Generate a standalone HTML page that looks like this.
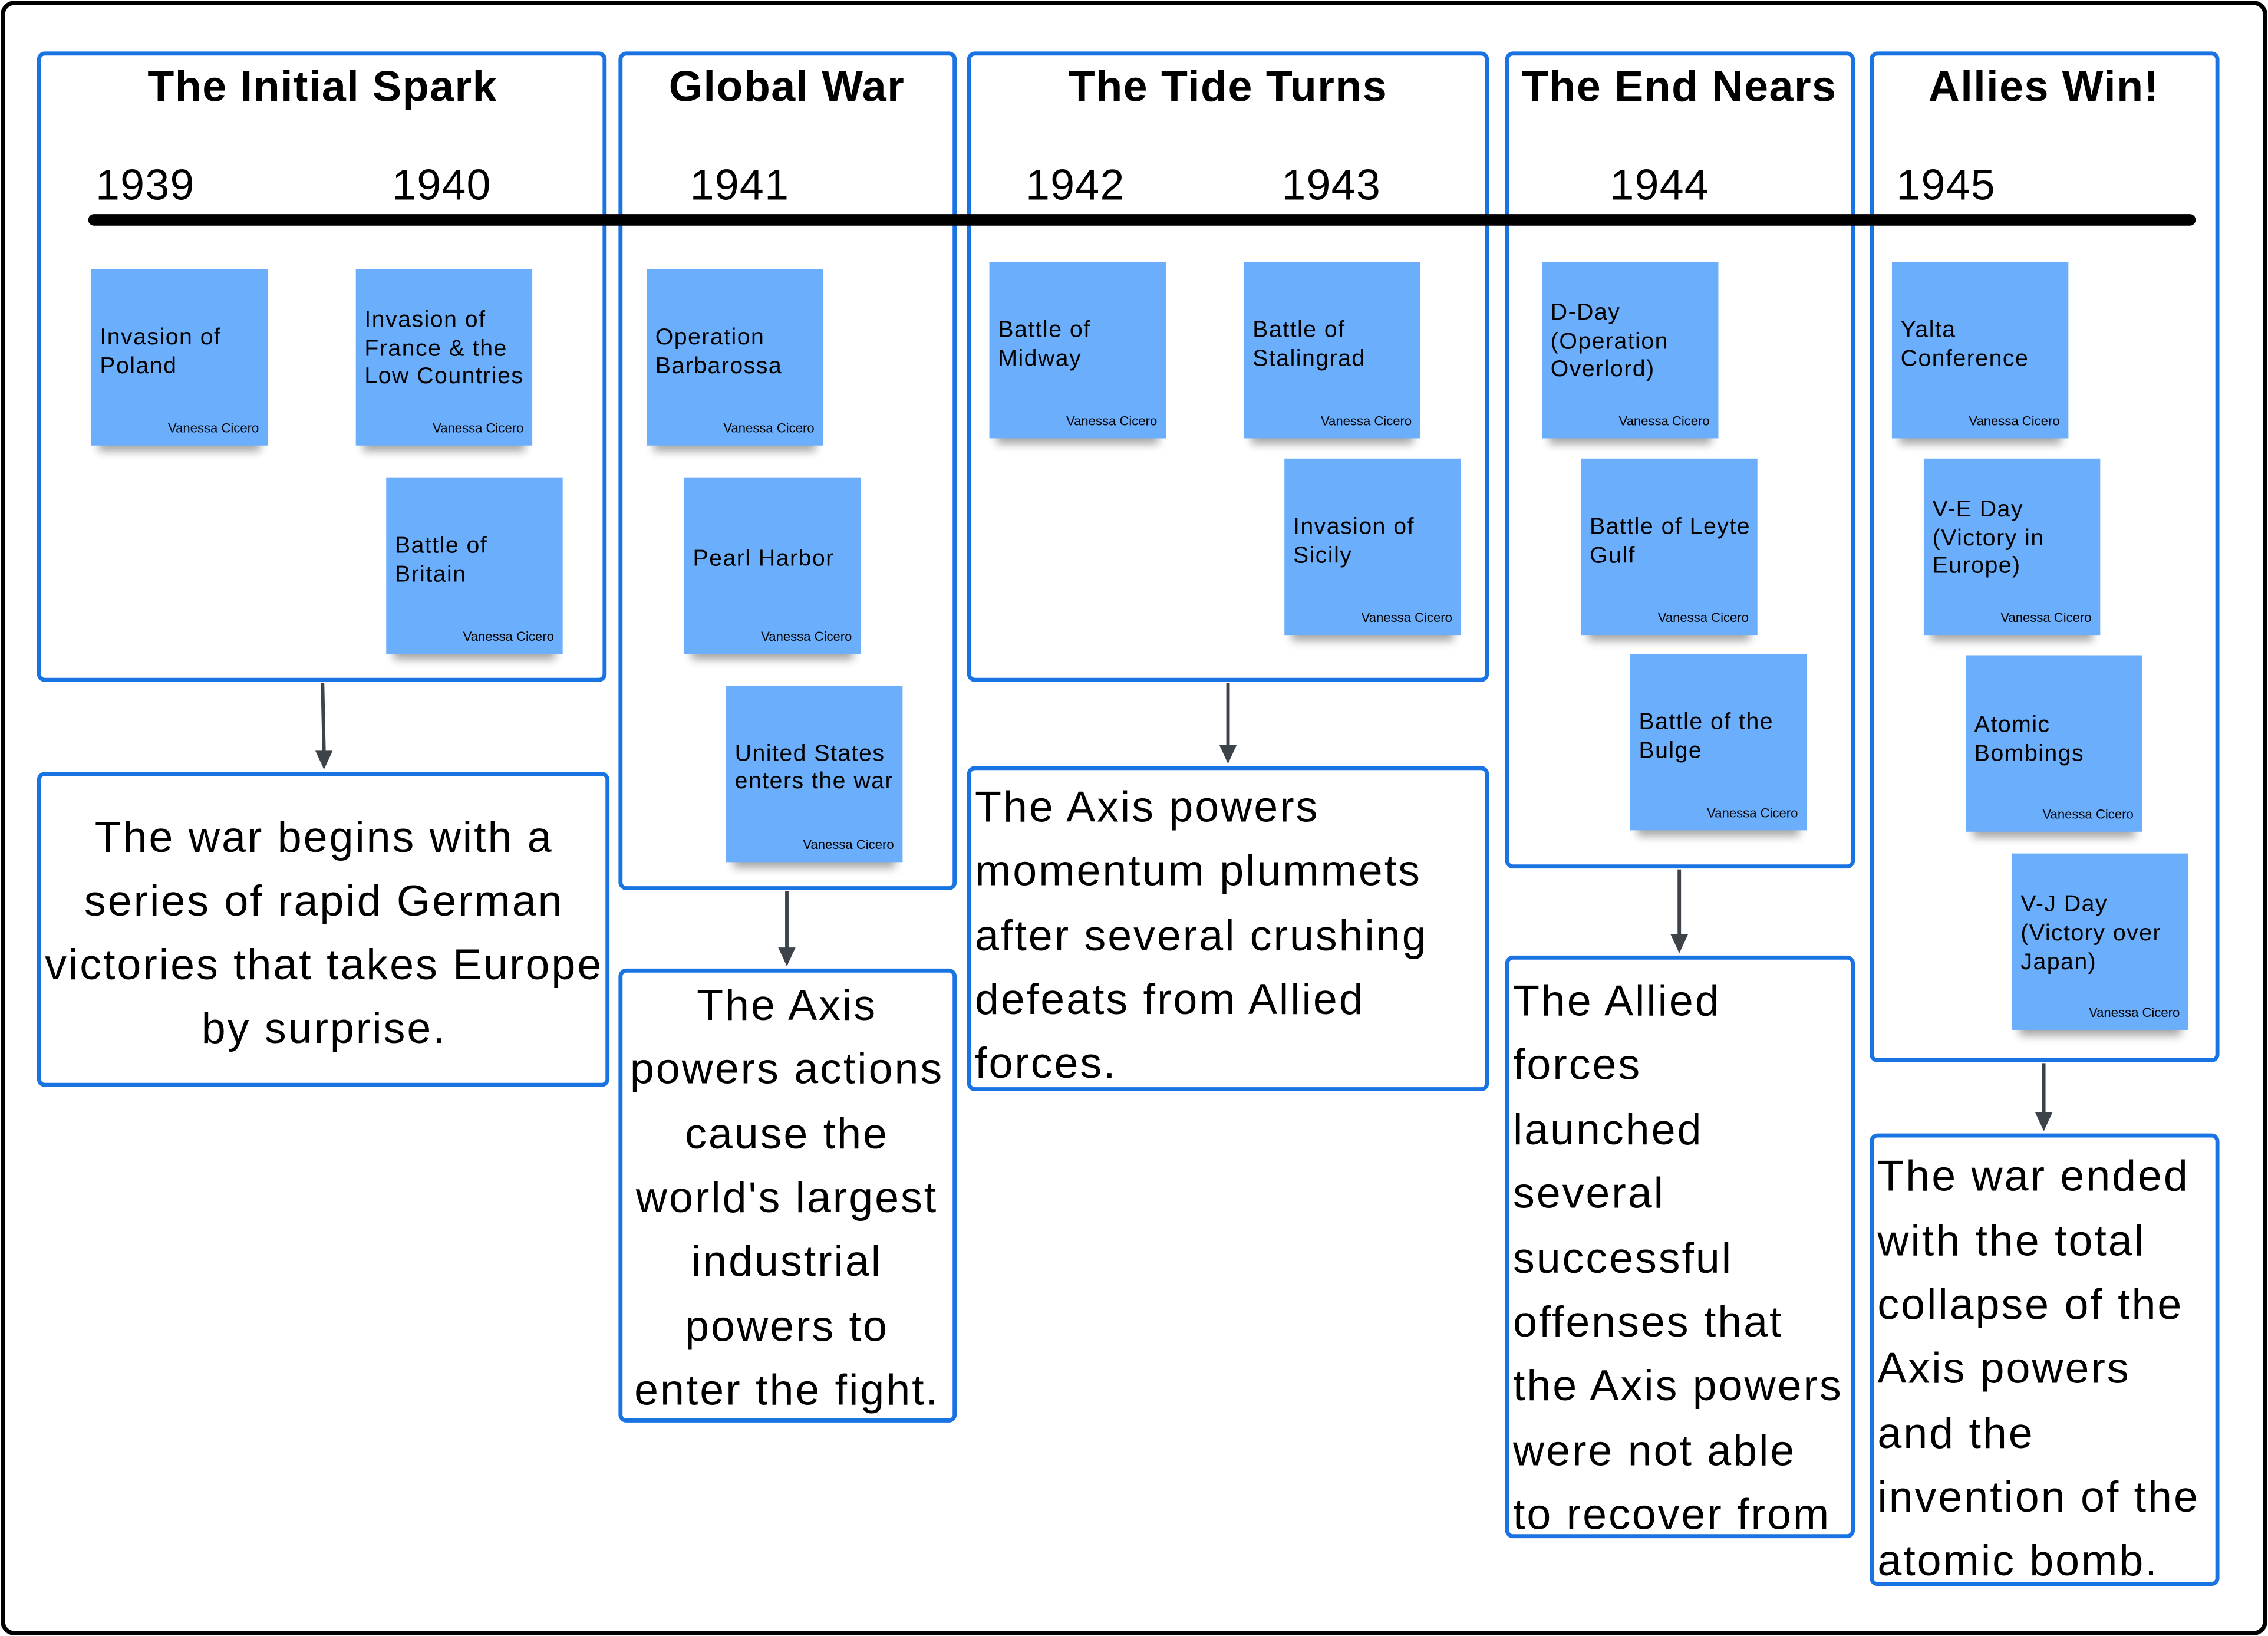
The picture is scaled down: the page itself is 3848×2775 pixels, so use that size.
<!DOCTYPE html>
<html><head><meta charset="utf-8"><style>
html,body{margin:0;padding:0;background:#fff;}
svg{display:block;}
text{font-family:"Liberation Sans",sans-serif;fill:#000;}
.t{font-size:30px;font-weight:bold;text-anchor:middle;letter-spacing:0.6px;}
.y{font-size:30px;letter-spacing:0.5px;}
.s{font-size:16px;letter-spacing:0.6px;}
.sig{font-size:9px;text-anchor:end;}
.b{font-size:30px;letter-spacing:1.2px;}
.c{text-anchor:middle;}
.box{fill:#fff;stroke:#1a73e3;stroke-width:2.8;}
.st{fill:#6aaefc;}
.sh{fill:#000;opacity:.35;filter:url(#bl);}
.ar{stroke:#3d434b;stroke-width:2.4;fill:none;}
.ah{fill:#3d434b;}
</style></head><body>
<svg width="3848" height="2775" viewBox="0 0 1568 1131" preserveAspectRatio="none">
<defs><filter id="bl" x="-20%" y="-50%" width="140%" height="200%"><feGaussianBlur stdDeviation="3"/></filter></defs>
<rect x="2" y="2" width="1564" height="1127" rx="8" fill="#fff" stroke="#000" stroke-width="3"/>
<rect class="box" x="27" y="37" width="391" height="433" rx="4"/>
<rect class="box" x="429" y="37" width="231" height="577" rx="4"/>
<rect class="box" x="670" y="37" width="358" height="433" rx="4"/>
<rect class="box" x="1042" y="37" width="239" height="562" rx="4"/>
<rect class="box" x="1294" y="37" width="239" height="696" rx="4"/>
<text class="t" x="223" y="70">The Initial Spark</text>
<text class="t" x="544" y="70">Global War</text>
<text class="t" x="849" y="70">The Tide Turns</text>
<text class="t" x="1161" y="70">The End Nears</text>
<text class="t" x="1413" y="70">Allies Win!</text>
<text class="y" x="66" y="138">1939</text>
<text class="y" x="271" y="138">1940</text>
<text class="y" x="477" y="138">1941</text>
<text class="y" x="709" y="138">1942</text>
<text class="y" x="886" y="138">1943</text>
<text class="y" x="1113" y="138">1944</text>
<text class="y" x="1311" y="138">1945</text>
<line x1="65" y1="152" x2="1514" y2="152" stroke="#000" stroke-width="8" stroke-linecap="round"/>
<g>
<rect class="sh" x="68" y="300" width="112" height="12"/><rect class="st" x="63" y="186" width="122" height="122"/>
<text class="s" x="69" y="238">Invasion of</text><text class="s" x="69" y="258">Poland</text><text class="sig" x="179" y="299">Vanessa Cicero</text>

<rect class="sh" x="251" y="300" width="112" height="12"/><rect class="st" x="246" y="186" width="122" height="122"/>
<text class="s" x="252" y="226">Invasion of</text><text class="s" x="252" y="246">France &amp; the</text><text class="s" x="252" y="265">Low Countries</text><text class="sig" x="362" y="299">Vanessa Cicero</text>

<rect class="sh" x="272" y="444" width="112" height="12"/><rect class="st" x="267" y="330" width="122" height="122"/>
<text class="s" x="273" y="382">Battle of</text><text class="s" x="273" y="402">Britain</text><text class="sig" x="383" y="443">Vanessa Cicero</text>

<rect class="sh" x="452" y="300" width="112" height="12"/><rect class="st" x="447" y="186" width="122" height="122"/>
<text class="s" x="453" y="238">Operation</text><text class="s" x="453" y="258">Barbarossa</text><text class="sig" x="563" y="299">Vanessa Cicero</text>

<rect class="sh" x="478" y="444" width="112" height="12"/><rect class="st" x="473" y="330" width="122" height="122"/>
<text class="s" x="479" y="391">Pearl Harbor</text><text class="sig" x="589" y="443">Vanessa Cicero</text>

<rect class="sh" x="507" y="588" width="112" height="12"/><rect class="st" x="502" y="474" width="122" height="122"/>
<text class="s" x="508" y="526">United States</text><text class="s" x="508" y="545">enters the war</text><text class="sig" x="618" y="587">Vanessa Cicero</text>

<rect class="sh" x="689" y="295" width="112" height="12"/><rect class="st" x="684" y="181" width="122" height="122"/>
<text class="s" x="690" y="233">Battle of</text><text class="s" x="690" y="253">Midway</text><text class="sig" x="800" y="294">Vanessa Cicero</text>

<rect class="sh" x="865" y="295" width="112" height="12"/><rect class="st" x="860" y="181" width="122" height="122"/>
<text class="s" x="866" y="233">Battle of</text><text class="s" x="866" y="253">Stalingrad</text><text class="sig" x="976" y="294">Vanessa Cicero</text>

<rect class="sh" x="893" y="431" width="112" height="12"/><rect class="st" x="888" y="317" width="122" height="122"/>
<text class="s" x="894" y="369">Invasion of</text><text class="s" x="894" y="389">Sicily</text><text class="sig" x="1004" y="430">Vanessa Cicero</text>

<rect class="sh" x="1071" y="295" width="112" height="12"/><rect class="st" x="1066" y="181" width="122" height="122"/>
<text class="s" x="1072" y="221">D-Day</text><text class="s" x="1072" y="241">(Operation</text><text class="s" x="1072" y="260">Overlord)</text><text class="sig" x="1182" y="294">Vanessa Cicero</text>

<rect class="sh" x="1098" y="431" width="112" height="12"/><rect class="st" x="1093" y="317" width="122" height="122"/>
<text class="s" x="1099" y="369">Battle of Leyte</text><text class="s" x="1099" y="389">Gulf</text><text class="sig" x="1209" y="430">Vanessa Cicero</text>

<rect class="sh" x="1132" y="566" width="112" height="12"/><rect class="st" x="1127" y="452" width="122" height="122"/>
<text class="s" x="1133" y="504">Battle of the</text><text class="s" x="1133" y="524">Bulge</text><text class="sig" x="1243" y="565">Vanessa Cicero</text>

<rect class="sh" x="1313" y="295" width="112" height="12"/><rect class="st" x="1308" y="181" width="122" height="122"/>
<text class="s" x="1314" y="233">Yalta</text><text class="s" x="1314" y="253">Conference</text><text class="sig" x="1424" y="294">Vanessa Cicero</text>

<rect class="sh" x="1335" y="431" width="112" height="12"/><rect class="st" x="1330" y="317" width="122" height="122"/>
<text class="s" x="1336" y="357">V-E Day</text><text class="s" x="1336" y="377">(Victory in</text><text class="s" x="1336" y="396">Europe)</text><text class="sig" x="1446" y="430">Vanessa Cicero</text>

<rect class="sh" x="1364" y="567" width="112" height="12"/><rect class="st" x="1359" y="453" width="122" height="122"/>
<text class="s" x="1365" y="506">Atomic</text><text class="s" x="1365" y="526">Bombings</text><text class="sig" x="1475" y="566">Vanessa Cicero</text>

<rect class="sh" x="1396" y="704" width="112" height="12"/><rect class="st" x="1391" y="590" width="122" height="122"/>
<text class="s" x="1397" y="630">V-J Day</text><text class="s" x="1397" y="650">(Victory over</text><text class="s" x="1397" y="670">Japan)</text><text class="sig" x="1507" y="703">Vanessa Cicero</text>
</g>
<line class="ar" x1="223" y1="472" x2="224" y2="520"/><polygon class="ah" points="218,519 230,519 224,532"/>
<line class="ar" x1="544" y1="616" x2="544" y2="656"/><polygon class="ah" points="538,655 550,655 544,668"/>
<line class="ar" x1="849" y1="472" x2="849" y2="516"/><polygon class="ah" points="843,515 855,515 849,528"/>
<line class="ar" x1="1161" y1="601" x2="1161" y2="647"/><polygon class="ah" points="1155,646 1167,646 1161,659"/>
<line class="ar" x1="1413" y1="735" x2="1413" y2="770"/><polygon class="ah" points="1407,769 1419,769 1413,782"/>
<rect class="box" x="27" y="535" width="393" height="215" rx="4"/>
<text class="b c" x="224" y="589">The war begins with a</text><text class="b c" x="224" y="633">series of rapid German</text><text class="b c" x="224" y="677">victories that takes Europe</text><text class="b c" x="224" y="721">by surprise.</text>
<rect class="box" x="429" y="671" width="231" height="311" rx="4"/>
<text class="b c" x="544" y="705">The Axis</text><text class="b c" x="544" y="749">powers actions</text><text class="b c" x="544" y="794">cause the</text><text class="b c" x="544" y="838">world's largest</text><text class="b c" x="544" y="882">industrial</text><text class="b c" x="544" y="927">powers to</text><text class="b c" x="544" y="971">enter the fight.</text>
<rect class="box" x="670" y="531" width="358" height="222" rx="4"/>
<text class="b" x="674" y="568">The Axis powers</text><text class="b" x="674" y="612">momentum plummets</text><text class="b" x="674" y="657">after several crushing</text><text class="b" x="674" y="701">defeats from Allied</text><text class="b" x="674" y="745">forces.</text>
<rect class="box" x="1042" y="662" width="239" height="400" rx="4"/>
<text class="b" x="1046" y="702">The Allied</text><text class="b" x="1046" y="746">forces</text><text class="b" x="1046" y="791">launched</text><text class="b" x="1046" y="835">several</text><text class="b" x="1046" y="880">successful</text><text class="b" x="1046" y="924">offenses that</text><text class="b" x="1046" y="968">the Axis powers</text><text class="b" x="1046" y="1013">were not able</text><text class="b" x="1046" y="1057">to recover from</text>
<rect class="box" x="1294" y="785" width="239" height="310" rx="4"/>
<text class="b" x="1298" y="823">The war ended</text><text class="b" x="1298" y="868">with the total</text><text class="b" x="1298" y="912">collapse of the</text><text class="b" x="1298" y="956">Axis powers</text><text class="b" x="1298" y="1001">and the</text><text class="b" x="1298" y="1045">invention of the</text><text class="b" x="1298" y="1089">atomic bomb.</text>
</svg>
</body></html>
